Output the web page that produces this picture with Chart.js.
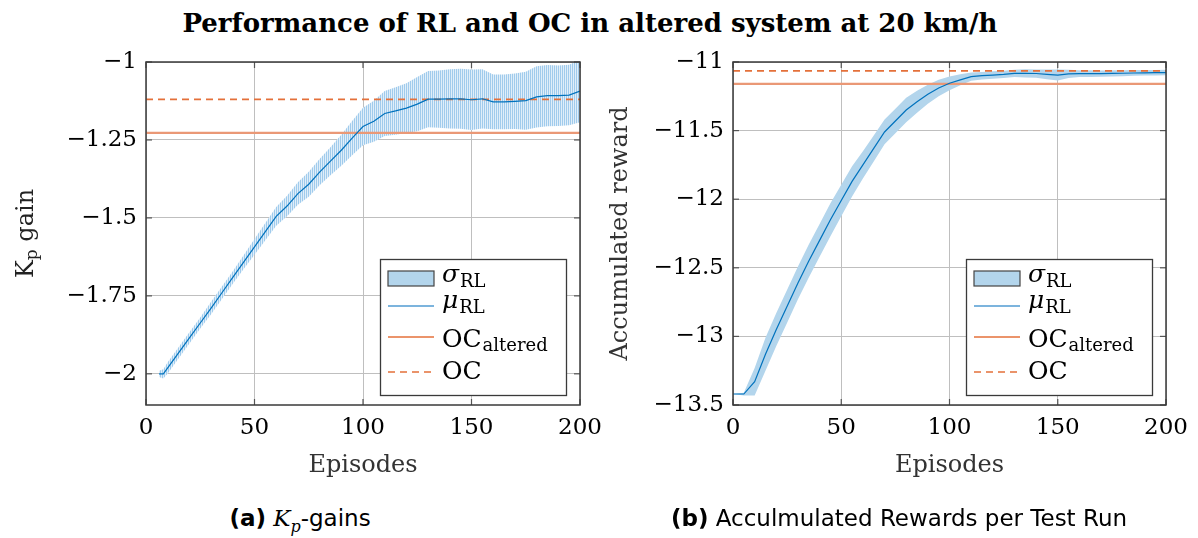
<!DOCTYPE html>
<html>
<head>
<meta charset="utf-8">
<script src="https://cdn.jsdelivr.net/npm/chart.js@4.4.0/dist/chart.umd.min.js"></script>
<style>
  html, body { margin: 0; padding: 0; background: #fff; }
  #wrap { position: relative; width: 1198px; height: 538px; overflow: hidden; }
  #title { position: absolute; left: 0; top: 8px; width: 1180px; text-align: center;
           font: bold 26px "DejaVu Serif"; color: #000; }
  canvas { position: absolute; top: 0; }
  #cvA { left: 0; }
  #cvB { left: 600px; }
  .cap { position: absolute; top: 505px; font: 23px "DejaVu Sans"; color: #000; text-align: center; }
  .cap i { font-family: "DejaVu Serif"; }
  .cap sub { font-size: 16px; }
</style>
</head>
<body>
<div id="wrap">
  <div id="title">Performance of RL and OC in altered system at 20 km/h</div>
  <canvas id="cvA" width="640" height="490"></canvas>
  <canvas id="cvB" width="598" height="490"></canvas>
  <div class="cap" style="left:0;width:600px"><b>(a)</b> <i>K<sub>p</sub></i>-gains</div>
  <div class="cap" style="left:600px;width:598px"><b>(b)</b> Acculmulated Rewards per Test Run</div>
</div>
<script>
// ---- K_p gain of the RL agent over training episodes ----
const kpEpisodes = [6, 8, 10, 15, 20, 25, 30, 35, 40, 45, 50, 55, 60, 65, 70, 75, 80, 85, 90, 95,
                    100, 105, 110, 115, 120, 125, 130, 135, 140, 145, 150, 155, 160, 165, 170, 175,
                    180, 185, 190, 195, 200];
const kpMean = [-2.000, -2.000, -1.981, -1.933, -1.885, -1.837, -1.789, -1.740, -1.691, -1.642,
                -1.593, -1.544, -1.495, -1.462, -1.422, -1.392, -1.353, -1.318, -1.283, -1.244,
                -1.207, -1.190, -1.165, -1.157, -1.148, -1.135, -1.119, -1.119, -1.118, -1.118,
                -1.121, -1.118, -1.128, -1.128, -1.126, -1.124, -1.112, -1.108, -1.108, -1.106,
                -1.093];
const kpStd = [0.010, 0.015, 0.018, 0.018, 0.018, 0.018, 0.020, 0.020, 0.020, 0.022,
               0.025, 0.028, 0.030, 0.033, 0.036, 0.040, 0.042, 0.045, 0.050, 0.055,
               0.060, 0.066, 0.072, 0.076, 0.080, 0.087, 0.090, 0.092, 0.095, 0.096,
               0.097, 0.095, 0.088, 0.088, 0.089, 0.093, 0.098, 0.098, 0.097, 0.097,
               0.100];
const kpOcAltered = -1.227;
const kpOc = -1.12;

// ---- accumulated reward per test run ----
const rewardEpisodes = [0, 5, 10, 15, 20, 25, 30, 35, 40, 45, 50, 55, 60, 65, 70, 75, 80, 85, 90, 95,
                        100, 105, 110, 115, 120, 125, 130, 135, 140, 145, 150, 155, 160, 165, 170, 175,
                        180, 185, 190, 195, 200];
const rewardMean = [-13.42, -13.42, -13.33, -13.13, -12.95, -12.78, -12.61, -12.45, -12.30, -12.15,
                    -12.01, -11.87, -11.75, -11.63, -11.51, -11.43, -11.35, -11.29, -11.235, -11.19,
                    -11.155, -11.13, -11.107, -11.10, -11.095, -11.09, -11.083, -11.083, -11.084, -11.09,
                    -11.095, -11.087, -11.085, -11.085, -11.085, -11.083, -11.082, -11.080, -11.079, -11.078,
                    -11.077];
const rewardStd = [0.000, 0.010, 0.100, 0.120, 0.120, 0.120, 0.120, 0.120, 0.120, 0.120,
                   0.115, 0.110, 0.100, 0.095, 0.090, 0.090, 0.090, 0.080, 0.070, 0.060,
                   0.050, 0.040, 0.030, 0.028, 0.027, 0.027, 0.027, 0.030, 0.030, 0.035,
                   0.040, 0.030, 0.025, 0.024, 0.023, 0.022, 0.022, 0.021, 0.020, 0.020,
                   0.020];
const rewardOcAltered = -11.16;
const rewardOc = -11.065;

// ---- axes ----
const episodeTicks = [0, 50, 100, 150, 200];
const kpTicks = [-2, -1.75, -1.5, -1.25, -1];
const rewardTicks = [-13.5, -13, -12.5, -12, -11.5, -11];

const BLUE = 'rgb(0,114,189)';
const BAND = 'rgb(179,213,236)';
const ORANGE_SOLID = 'rgb(234,152,118)';
const ORANGE_DASH = 'rgb(228,112,58)';
const SERIF = '"DejaVu Serif"';
const GRID = '#bfbfbf';

const minus = v => String(v).replace('-', '\u2212');
const pts = (xs, ys) => xs.map((x, i) => ({ x, y: ys[i] }));
const hline = (v) => [{ x: 0, y: v }, { x: 200, y: v }];

// vertical hatch used for the K_p spread
function hatch() {
  const c = document.createElement('canvas');
  c.width = 2; c.height = 1;
  const g = c.getContext('2d');
  g.fillStyle = 'rgb(160,203,236)'; g.fillRect(0, 0, 1, 1);
  g.fillStyle = 'rgb(224,238,249)'; g.fillRect(1, 0, 1, 1);
  return g.createPattern(c, 'repeat');
}

// frame, inward tick marks and the legend box
const decor = {
  id: 'decor',
  afterDatasetsDraw(chart) {
    const { ctx, chartArea: a, scales: { x, y } } = chart;
    ctx.save();
    ctx.strokeStyle = '#555'; ctx.lineWidth = 1.2;
    const L = 6;
    const seg = (x1, y1, x2, y2) => { ctx.beginPath(); ctx.moveTo(x1, y1); ctx.lineTo(x2, y2); ctx.stroke(); };
    x.ticks.forEach(t => { const p = x.getPixelForValue(t.value); seg(p, a.bottom, p, a.bottom - L); seg(p, a.top, p, a.top + L); });
    y.ticks.forEach(t => { const p = y.getPixelForValue(t.value); seg(a.left, p, a.left + L, p); seg(a.right, p, a.right - L, p); });
    ctx.strokeStyle = '#3a3a3a'; ctx.lineWidth = 1.5;
    ctx.strokeRect(a.left, a.top, a.right - a.left, a.bottom - a.top);

    // legend
    const W = 186, H = 136;
    const bx = a.right - 14 - W, by = a.bottom - 10 - H;
    ctx.fillStyle = '#fff'; ctx.fillRect(bx, by, W, H);
    ctx.strokeStyle = '#3a3a3a'; ctx.lineWidth = 1.3; ctx.strokeRect(bx + 0.5, by + 0.5, W, H);
    const sx1 = bx + 8, sx2 = bx + 54, tx = bx + 62;
    ctx.fillStyle = BAND; ctx.fillRect(sx1, by + 12, sx2 - sx1, 15);
    ctx.strokeStyle = '#444'; ctx.lineWidth = 1.2; ctx.strokeRect(sx1, by + 12, sx2 - sx1, 15);
    ctx.lineWidth = 1.6;
    ctx.strokeStyle = 'rgb(80,155,210)'; seg(sx1, by + 47, sx2, by + 47);
    ctx.strokeStyle = ORANGE_DASH; ctx.lineWidth = 1.5; seg(sx1, by + 78, sx2, by + 78);
    ctx.setLineDash([7, 5]); seg(sx1, by + 113, sx2, by + 113); ctx.setLineDash([]);
    ctx.fillStyle = '#000'; ctx.textBaseline = 'alphabetic'; ctx.textAlign = 'left';
    const lab = (main, italic, sub, base, subDrop) => {
      ctx.font = (italic ? 'italic ' : '') + '25px ' + SERIF;
      ctx.fillText(main, tx, base);
      const w = ctx.measureText(main).width;
      if (sub) { ctx.font = '18px ' + SERIF; ctx.fillText(sub, tx + w + 1, base + subDrop); }
    };
    lab('\u03c3', true, 'RL', by + 23, 5);
    lab('\u03bc', true, 'RL', by + 49, 5);
    lab('OC', false, 'altered', by + 88, 4);
    lab('OC', false, '', by + 120, 0);
    ctx.restore();
  }
};

// rotated y label with subscript for the K_p panel
const kpLabel = {
  id: 'kpLabel',
  afterDraw(chart) {
    const { ctx, chartArea: a } = chart;
    ctx.save();
    ctx.translate(27, (a.top + a.bottom) / 2);
    ctx.rotate(-Math.PI / 2);
    ctx.fillStyle = '#222'; ctx.textBaseline = 'middle'; ctx.textAlign = 'left';
    ctx.font = '24px ' + SERIF; const wK = ctx.measureText('K').width;
    ctx.font = '17px ' + SERIF; const wp = ctx.measureText('p').width;
    ctx.font = '24px ' + SERIF; const wg = ctx.measureText(' gain').width;
    const x0 = -(wK + wp + wg) / 2;
    ctx.fillText('K', x0, 0);
    ctx.font = '17px ' + SERIF; ctx.fillText('p', x0 + wK, 6);
    ctx.font = '24px ' + SERIF; ctx.fillText(' gain', x0 + wK + wp, 0);
    ctx.restore();
  }
};

function makeChart(id, xs, mean, std, ocAlt, oc, yTicks, yMin, yMax, bandFill, yWidth, rightPad, yTitle) {
  const upper = mean.map((m, i) => m + std[i]);
  const lower = mean.map((m, i) => m - std[i]);
  return new Chart(document.getElementById(id), {
    type: 'line',
    data: {
      datasets: [
        { data: pts(xs, mean), borderColor: BLUE, borderWidth: 1.2, pointRadius: 0, fill: false, order: 0 },
        { data: hline(oc), borderColor: ORANGE_DASH, borderWidth: 1.6, borderDash: [7, 5], pointRadius: 0, fill: false, order: 1 },
        { data: hline(ocAlt), borderColor: ORANGE_SOLID, borderWidth: 2.2, pointRadius: 0, fill: false, order: 2 },
        { data: pts(xs, upper), borderWidth: 0, borderColor: 'rgba(0,0,0,0)', pointRadius: 0, fill: '+1', backgroundColor: bandFill, order: 3 },
        { data: pts(xs, lower), borderWidth: 0, borderColor: 'rgba(0,0,0,0)', pointRadius: 0, fill: false, order: 4 }
      ]
    },
    options: {
      responsive: false, animation: false,
      layout: { padding: { left: 0, right: rightPad, top: 62, bottom: 0 } },
      plugins: { legend: { display: false }, tooltip: { enabled: false } },
      elements: { line: { tension: 0 } },
      scales: {
        x: {
          type: 'linear', min: 0, max: 200,
          afterBuildTicks: s => { s.ticks = episodeTicks.map(v => ({ value: v })); },
          afterFit: s => { s.height = 85; },
          grid: { color: GRID, lineWidth: 1, drawTicks: false },
          border: { display: false },
          ticks: { padding: 9, color: '#000', font: { family: SERIF, size: 23 }, maxRotation: 0, callback: v => minus(v) },
          title: { display: true, text: 'Episodes', color: '#333', font: { family: SERIF, size: 24 }, padding: { top: 0, bottom: 10 } }
        },
        y: {
          type: 'linear', min: yMin, max: yMax,
          afterBuildTicks: s => { s.ticks = yTicks.map(v => ({ value: v })); },
          afterFit: s => { s.width = yWidth; },
          grid: { color: GRID, lineWidth: 1, drawTicks: false },
          border: { display: false },
          ticks: { padding: 9, color: '#000', font: { family: SERIF, size: 23 }, callback: v => minus(v) },
          title: { display: !!yTitle, text: yTitle || '', color: '#333', font: { family: SERIF, size: 24 }, padding: { top: 6, bottom: 0 } }
        }
      }
    },
    plugins: yTitle ? [decor] : [decor, kpLabel]
  });
}

makeChart('cvA', kpEpisodes, kpMean, kpStd, kpOcAltered, kpOc, kpTicks, -2.1, -1, hatch(), 146, 60, null);
makeChart('cvB', rewardEpisodes, rewardMean, rewardStd, rewardOcAltered, rewardOc, rewardTicks, -13.5, -11, BAND, 133, 32, 'Accumulated reward');
</script>
</body>
</html>
